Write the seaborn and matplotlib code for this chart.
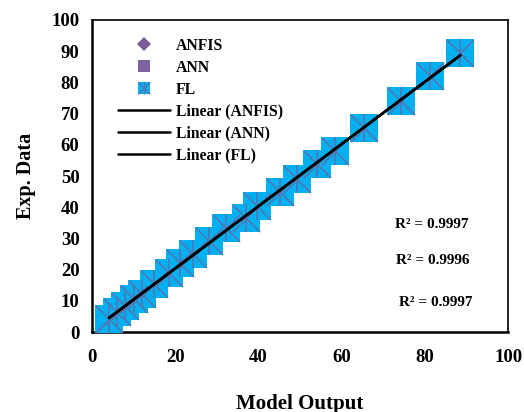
import numpy as np
import pandas as pd
import matplotlib
matplotlib.use("Agg")
import matplotlib.pyplot as plt
from matplotlib.lines import Line2D
import seaborn as sns

# Model output vs. experimental data for each model
fl_model = [4.1, 6.0, 7.9, 10.1, 12.0, 14.9, 18.6, 21.2, 24.3, 28.1, 32.2,
            37.0, 39.7, 45.2, 49.3, 54.0, 58.3, 65.4, 74.3, 81.3, 88.5]
fl_exp = [4.2, 6.4, 8.3, 10.6, 12.2, 15.4, 18.9, 22.1, 25.0, 29.2, 33.3,
          36.6, 40.4, 44.9, 49.0, 54.0, 58.0, 65.4, 74.0, 82.0, 89.4]
anfis_model = list(fl_model)
anfis_exp = list(fl_exp)
ann_model = list(fl_model)
ann_exp = list(fl_exp)

series_names = ["ANFIS", "ANN", "FL"]
r2_labels = ["R\u00b2 = 0.9997", "R\u00b2 = 0.9996", "R\u00b2 = 0.9997"]
x_ticks = [0, 20, 40, 60, 80, 100]
y_ticks = [0, 10, 20, 30, 40, 50, 60, 70, 80, 90, 100]

sns.set_theme(style="white")
plt.rcParams["font.family"] = ["Liberation Serif", "DejaVu Serif"]
plt.rcParams["font.weight"] = "bold"
plt.rcParams["text.color"] = "black"
plt.rcParams["axes.labelcolor"] = "black"
plt.rcParams["xtick.color"] = "black"
plt.rcParams["ytick.color"] = "black"

C_ANFIS = "#7a5c99"
C_ANN = "#8064a2"
C_FL = "#00b0f0"
C_STAR = "#5a72b0"

fig = plt.figure(figsize=(5.24, 4.12), dpi=100)
ax = fig.add_axes([0.1756, 0.194, 0.794, 0.7575])

df_anfis = pd.DataFrame({"x": anfis_model, "y": anfis_exp})
df_ann = pd.DataFrame({"x": ann_model, "y": ann_exp})
df_fl = pd.DataFrame({"x": fl_model, "y": fl_exp})

ms = 19.5
sns.scatterplot(data=df_anfis, x="x", y="y", marker="D", s=90, color=C_ANFIS,
                linewidth=0, ax=ax, zorder=2)
sns.scatterplot(data=df_ann, x="x", y="y", marker="s", s=120, color=C_ANN,
                linewidth=0, ax=ax, zorder=2)
sns.scatterplot(data=df_fl, x="x", y="y", marker="s", s=ms ** 2, color=C_FL,
                linewidth=0, ax=ax, zorder=3)
sns.scatterplot(data=df_fl, x="x", y="y", marker="x", s=ms ** 2, color=C_STAR,
                linewidth=1.1, ax=ax, zorder=4)
sns.scatterplot(data=df_fl, x="x", y="y", marker="|", s=ms ** 2, color=C_STAR,
                linewidth=1.1, ax=ax, zorder=4)

# Linear trend lines
for d in (df_anfis, df_ann, df_fl):
    sns.regplot(data=d, x="x", y="y", scatter=False, ci=None, color="black",
                line_kws={"lw": 1.8, "zorder": 5}, ax=ax)

ax.set_xlim(0, 100)
ax.set_ylim(0, 100)
ax.set_xticks(x_ticks)
ax.set_yticks(y_ticks)
ax.set_xticklabels([str(t) for t in x_ticks], fontsize=13.5, fontweight="bold")
ax.set_yticklabels([str(t) for t in y_ticks], fontsize=13.5, fontweight="bold")
ax.tick_params(axis="both", which="major", direction="out", length=5, width=1.3,
               color="black", labelcolor="black")
ax.tick_params(axis="x", pad=7)
ax.tick_params(axis="y", pad=4)
for sp in ax.spines.values():
    sp.set_visible(True)
    sp.set_color("black")
ax.spines["left"].set_linewidth(1.8)
ax.spines["bottom"].set_linewidth(1.8)
ax.spines["top"].set_linewidth(1.2)
ax.spines["right"].set_linewidth(1.2)

ax.set_xlabel("Model Output", fontsize=15, fontweight="bold", labelpad=20,
              color="black")
ax.set_ylabel("Exp. Data", fontsize=14.5, fontweight="bold", labelpad=11,
              color="black")

# R-squared annotations
r2_pos = [(81.7, 34.6), (82.0, 22.8), (82.5, 9.6)]
for (tx, ty), lab in zip(r2_pos, r2_labels):
    ax.text(tx, ty, lab, ha="center", va="center", fontsize=11,
            fontweight="bold", color="black")

# Legend
h_anfis = Line2D([], [], linestyle="none", marker="D", markersize=7,
                 markerfacecolor=C_ANFIS, markeredgewidth=0)
h_ann = Line2D([], [], linestyle="none", marker="s", markersize=8.5,
               markerfacecolor=C_ANN, markeredgewidth=0)
h_fl_sq = Line2D([], [], linestyle="none", marker="s", markersize=8.5,
                 markerfacecolor=C_FL, markeredgewidth=0)
h_fl_x = Line2D([], [], linestyle="none", marker="x", markersize=8.5,
                color=C_STAR, markeredgewidth=0.9)
h_fl_v = Line2D([], [], linestyle="none", marker="|", markersize=8.5,
                color=C_STAR, markeredgewidth=0.9)
h_line = [Line2D([], [], color="black", lw=1.8) for _ in range(3)]
handles = [h_anfis, h_ann, (h_fl_sq, h_fl_x, h_fl_v)] + h_line
labels = series_names + ["Linear (%s)" % n for n in series_names]
leg = ax.legend(handles, labels, loc="upper left", bbox_to_anchor=(0.062, 0.943),
                frameon=False, handlelength=3.3, labelcolor="black",
                handletextpad=0.4, labelspacing=0.38, borderpad=0,
                borderaxespad=0, prop={"weight": "bold", "size": 11.3})

fig.savefig("out.png", dpi=100, facecolor="white")
